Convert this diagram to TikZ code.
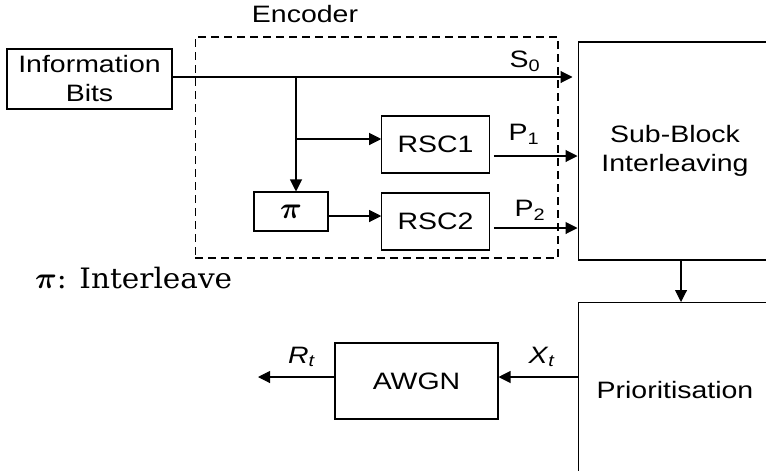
\documentclass[tikz,border=0pt]{standalone}
\usepackage{amsmath,amssymb}
\usepackage{fontspec}
\setsansfont[FakeStretch=1.2]{Liberation Sans}
\newfontfamily\keyfont[FakeStretch=1.05]{DejaVu Serif}
\usetikzlibrary{arrows.meta,positioning,calc}

\begin{document}
\begin{tikzpicture}[x=0.02cm,y=-0.02cm,font=\sffamily\fontsize{13.5}{16.5}\selectfont,
  box/.style={draw,line width=0.6pt,inner sep=0pt,align=center},
  lab/.style={inner sep=1pt},
  arr/.style={-{Triangle[length=2.4mm,width=2.4mm]},line width=0.6pt}]
\clip (0,0) rectangle (766,470);
\node[box,minimum width=3.3cm,minimum height=1.2cm] (info) at (89.5,79) {Information\\ Bits};
\node[box,dashed,dash pattern=on 0.16cm off 0.1cm,minimum width=7.26cm,minimum height=4.42cm] (encbox) at (376.5,147.5) {};
\node[lab] (enc) at (305,14) {Encoder};
\node[box,minimum width=2.15cm,minimum height=1.14cm] (rsc1) at (435.5,144.5) {RSC1};
\node[box,minimum width=2.15cm,minimum height=1.14cm] (rsc2) at (435.5,221.5) {RSC2};
\node[box,minimum width=1.48cm,minimum height=0.78cm] (pi) at (291,211.5) {\fontsize{19}{19}\selectfont$\boldsymbol{\pi}$};
\node[box,minimum width=3.88cm,minimum height=4.36cm] (sbi) at (675,151) {Sub-Block\\ Interleaving};
\node[box,minimum width=3.88cm,minimum height=3.5cm,anchor=north] (prio) at (675,302) {Prioritisation};
\node[box,minimum width=3.26cm,minimum height=1.52cm] (awgn) at (416.5,381) {AWGN};
\node[lab,anchor=west] (key) at (33,278) {\keyfont\fontsize{16}{16}\selectfont$\boldsymbol{\pi}$: Interleave};
% encoder
\coordinate (split) at (296,77);
\coordinate (tap) at (296,139);
\draw[arr,shorten >=0.1cm] (info.east |- split) -- (split -| sbi.west);
\node[lab] (s0) at (525,61) {S\textsubscript{0}};
\draw[arr] (split) -- (split |- pi.north);
\draw[arr] (tap) -- (tap -| rsc1.west);
\draw[arr] (pi.east |- 0,216) -- (rsc2.west |- 0,216);
\draw[arr,shorten <=0.08cm] (rsc1.east |- 0,156) -- (sbi.west |- 0,156);
\node[lab] (p1) at (524,134) {P\textsubscript{1}};
\draw[arr,shorten <=0.08cm] (rsc2.east |- 0,228) -- (sbi.west |- 0,228);
\node[lab] (p2) at (530,210) {P\textsubscript{2}};
% channel
\coordinate (out) at (258,377);
\draw[arr] (sbi.south -| 681,0) -- (prio.north -| 681,0);
\draw[arr] (prio.west |- out) -- (awgn.east |- out);
\node[lab] (xt) at (542,357) {\textit{X}\textsubscript{\textit{t}}};
\draw[arr] (awgn.west |- out) -- (out);
\node[lab] (rt) at (302,357) {\textit{R}\textsubscript{\textit{t}}};
\end{tikzpicture}
\end{document}
